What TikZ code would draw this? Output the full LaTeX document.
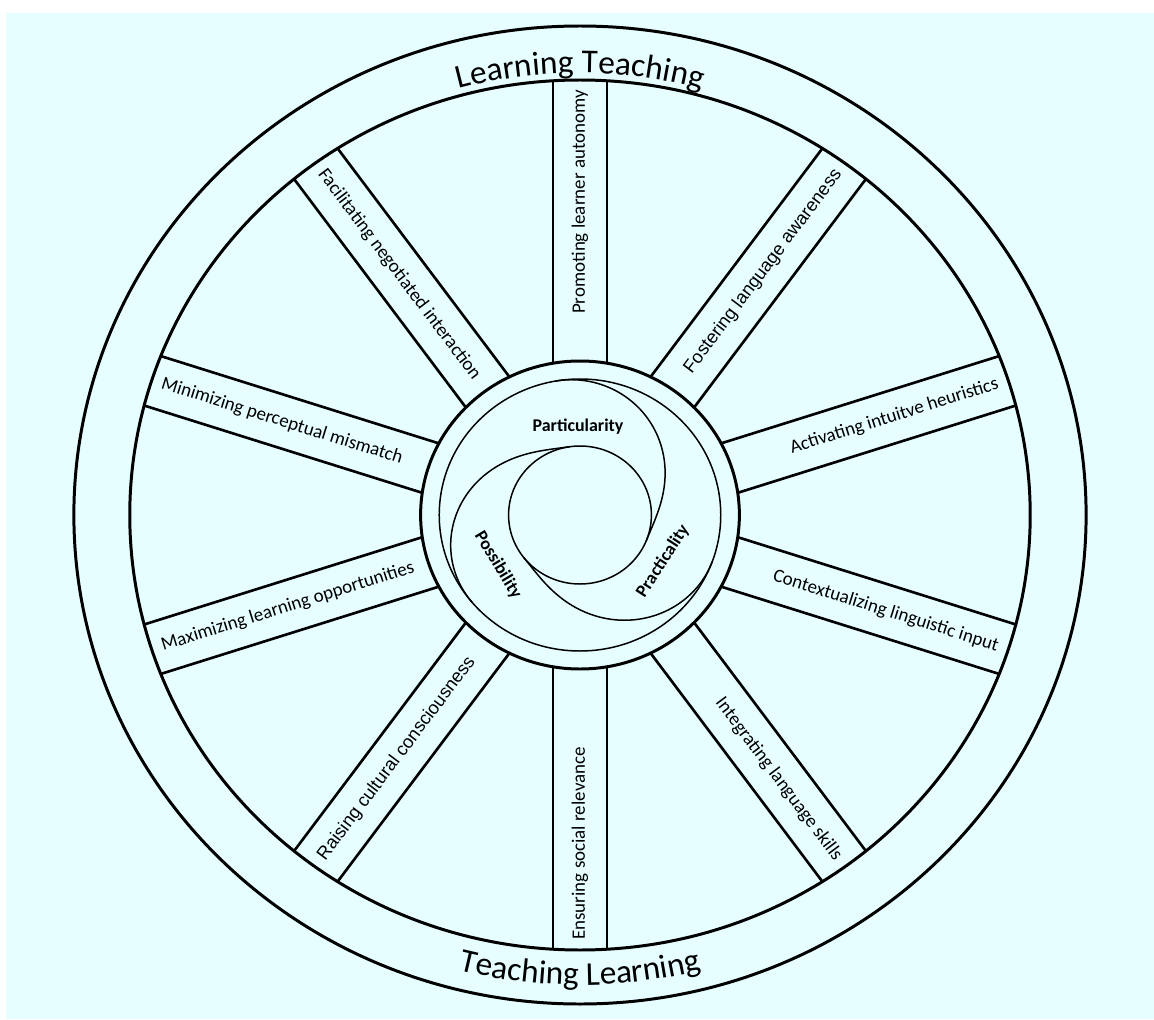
\documentclass[tikz,border=0pt]{standalone}
\usepackage{fontspec}
\setmainfont{Carlito}
\newfontfamily\altsans{Liberation Sans}
\usetikzlibrary{decorations.text}
\definecolor{wheelbg}{RGB}{230,254,255}

\begin{document}
\begin{tikzpicture}[x=0.02cm, y=0.02cm,
  rimline/.style={line width=1.7pt},
  spokeline/.style={line width=1.5pt},
  hubline/.style={line width=0.85pt},
  spokelabel/.style={font=\fontsize{10.8}{12}\selectfont, inner sep=0pt},
  spokealt/.style={font=\altsans\fontsize{10.4}{12}\selectfont, inner sep=0pt},
  hublabel/.style={font=\fontsize{10.2}{12}\selectfont\bfseries, inner sep=0pt}]
  \useasboundingbox (-580,-504) rectangle (574,515);
  \fill[white] (-580,-504) rectangle (574,515);
  \fill[wheelbg] (-574,-504) rectangle (574,502);

  \begin{scope}[xscale=1.035]
    % spokes, clipped to the band between hub and rim
    \begin{scope}[even odd rule]
      \clip (0,0) circle[radius=435] (0,0) circle[radius=154];
      \foreach \a in {90,54,...,-234} {
        \draw[spokeline, rotate=\a] (100,-26) -- (500,-26) (100,26) -- (500,26);
      }
    \end{scope}

    % rim and hub
    \draw[rimline] (0,0) circle[radius=489];
    \draw[rimline] (0,0) circle[radius=435];
    \draw[rimline] (0,0) circle[radius=154];
    \draw[hubline] (0,0) circle[radius=136];
    \draw[hubline] (0,0) circle[radius=69];
    \foreach \a in {100,220,340}
      \draw[hubline] plot[domain=0:1, samples=40, smooth]
        ({\a-122*\x}:{136-67*(1-cos(180*\x))/2});

    % spoke labels
    \foreach \a/\sty/\txt [count=\i] in {
      90/spokelabel/Promoting learner autonomy,
      54/spokealt/Fostering language awareness,
      18/spokelabel/Activating intuitve heuristics,
      -18/spokelabel/Contextualizing linguistic input,
      -54/spokelabel/Integrating language skills,
      -90/spokelabel/Ensuring social relevance,
      -126/spokealt/Raising cultural consciousness,
      -162/spokelabel/Maximizing learning opportunities,
      162/spokelabel/Minimizing perceptual mismatch,
      126/spokelabel/Facilitating negotiated interaction} {
      \pgfmathsetmacro{\rt}{atan2(sin(\a),1.035*cos(\a))}
      \pgfmathtruncatemacro{\rs}{and(\a>-90,\a<91)}
      \ifnum\rs=1
        \node[\sty, rotate=\rt, anchor=east] (spoke\i) at (\a:425) {\txt};
      \else
        \node[\sty, rotate=\rt+180, anchor=west] (spoke\i) at (\a:425) {\txt};
      \fi
    }
  \end{scope}

  % hub labels
  \node[hublabel] (partic) at (-2,88) {Particularity};
  \node[hublabel, rotate=-59] (possib) at (-82,-50) {Possibility};
  \node[hublabel, rotate=57] (pract) at (83,-46) {Practicality};

  % ring labels
  \path[decorate, decoration={text along path, text align=center,
      text={|\fontsize{19}{20}\selectfont|Learning Teaching}}]
    (125:457 and 442) arc[start angle=125, end angle=55, x radius=457, y radius=442];
  \path[decorate, decoration={text along path, text align=center,
      text={|\fontsize{19}{20}\selectfont|Teaching Learning}}]
    (235:486 and 470) arc[start angle=235, end angle=305, x radius=486, y radius=470];
\end{tikzpicture}
\end{document}
